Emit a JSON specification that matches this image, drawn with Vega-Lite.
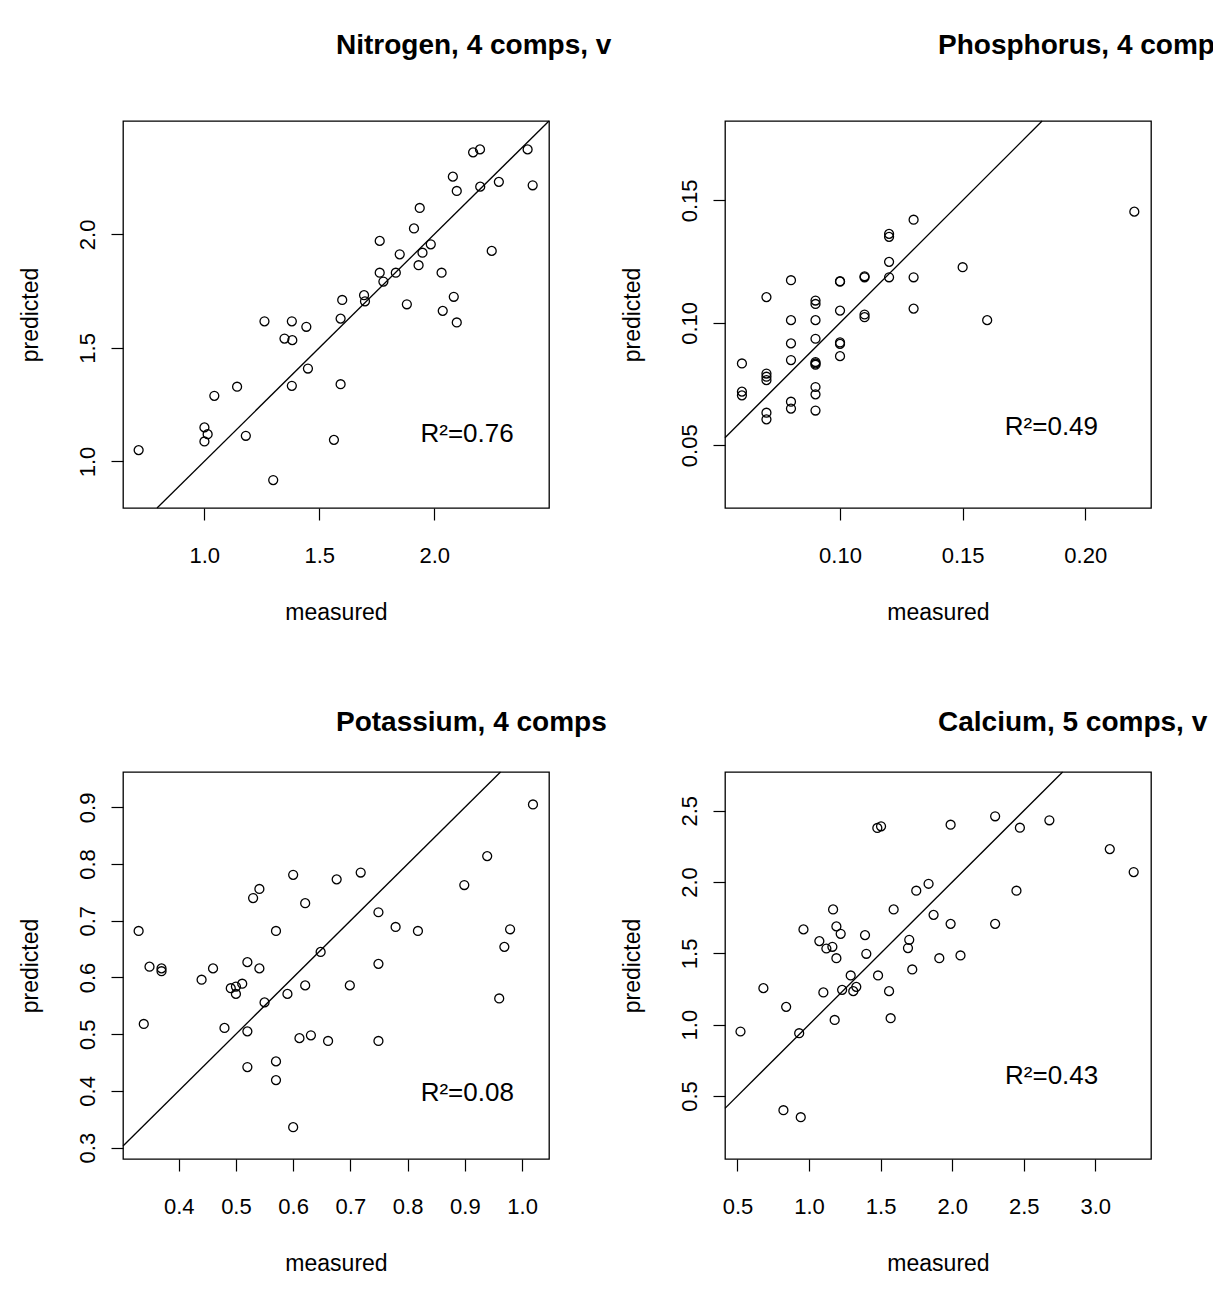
{
  "$schema": "https://vega.github.io/schema/vega-lite/v6.json",
  "background": "white",
  "padding": {"left": 18, "top": 31, "right": 0, "bottom": 0},
  "bounds": "flush",
  "columns": 2,
  "spacing": {"row": 264, "column": 176},
  "datasets": {
    "points": [
      {"panel": "N", "measured": 0.715, "predicted": 1.050},
      {"panel": "N", "measured": 1.001, "predicted": 1.150},
      {"panel": "N", "measured": 1.015, "predicted": 1.120},
      {"panel": "N", "measured": 1.001, "predicted": 1.088},
      {"panel": "N", "measured": 1.044, "predicted": 1.289},
      {"panel": "N", "measured": 1.143, "predicted": 1.329},
      {"panel": "N", "measured": 1.181, "predicted": 1.113},
      {"panel": "N", "measured": 1.300, "predicted": 0.918},
      {"panel": "N", "measured": 1.262, "predicted": 1.617},
      {"panel": "N", "measured": 1.381, "predicted": 1.617},
      {"panel": "N", "measured": 1.444, "predicted": 1.593},
      {"panel": "N", "measured": 1.349, "predicted": 1.541},
      {"panel": "N", "measured": 1.383, "predicted": 1.534},
      {"panel": "N", "measured": 1.451, "predicted": 1.409},
      {"panel": "N", "measured": 1.381, "predicted": 1.333},
      {"panel": "N", "measured": 1.564, "predicted": 1.095},
      {"panel": "N", "measured": 1.593, "predicted": 1.340},
      {"panel": "N", "measured": 1.600, "predicted": 1.711},
      {"panel": "N", "measured": 1.593, "predicted": 1.629},
      {"panel": "N", "measured": 1.695, "predicted": 1.732},
      {"panel": "N", "measured": 1.699, "predicted": 1.705},
      {"panel": "N", "measured": 1.763, "predicted": 1.971},
      {"panel": "N", "measured": 1.763, "predicted": 1.831},
      {"panel": "N", "measured": 1.779, "predicted": 1.792},
      {"panel": "N", "measured": 1.833, "predicted": 1.831},
      {"panel": "N", "measured": 1.850, "predicted": 1.912},
      {"panel": "N", "measured": 1.881, "predicted": 1.692},
      {"panel": "N", "measured": 1.912, "predicted": 2.026},
      {"panel": "N", "measured": 1.937, "predicted": 2.116},
      {"panel": "N", "measured": 1.932, "predicted": 1.864},
      {"panel": "N", "measured": 1.949, "predicted": 1.919},
      {"panel": "N", "measured": 1.985, "predicted": 1.956},
      {"panel": "N", "measured": 2.032, "predicted": 1.831},
      {"panel": "N", "measured": 2.037, "predicted": 1.663},
      {"panel": "N", "measured": 2.085, "predicted": 1.725},
      {"panel": "N", "measured": 2.098, "predicted": 1.612},
      {"panel": "N", "measured": 2.081, "predicted": 2.254},
      {"panel": "N", "measured": 2.098, "predicted": 2.191},
      {"panel": "N", "measured": 2.169, "predicted": 2.361},
      {"panel": "N", "measured": 2.199, "predicted": 2.374},
      {"panel": "N", "measured": 2.200, "predicted": 2.210},
      {"panel": "N", "measured": 2.250, "predicted": 1.927},
      {"panel": "N", "measured": 2.281, "predicted": 2.231},
      {"panel": "N", "measured": 2.406, "predicted": 2.374},
      {"panel": "N", "measured": 2.428, "predicted": 2.216},

      {"panel": "P", "measured": 0.06, "predicted": 0.0834},
      {"panel": "P", "measured": 0.06, "predicted": 0.0719},
      {"panel": "P", "measured": 0.06, "predicted": 0.0704},
      {"panel": "P", "measured": 0.07, "predicted": 0.1105},
      {"panel": "P", "measured": 0.07, "predicted": 0.0793},
      {"panel": "P", "measured": 0.07, "predicted": 0.0780},
      {"panel": "P", "measured": 0.07, "predicted": 0.0766},
      {"panel": "P", "measured": 0.07, "predicted": 0.0633},
      {"panel": "P", "measured": 0.07, "predicted": 0.0606},
      {"panel": "P", "measured": 0.08, "predicted": 0.1174},
      {"panel": "P", "measured": 0.08, "predicted": 0.1011},
      {"panel": "P", "measured": 0.08, "predicted": 0.0916},
      {"panel": "P", "measured": 0.08, "predicted": 0.0848},
      {"panel": "P", "measured": 0.08, "predicted": 0.0678},
      {"panel": "P", "measured": 0.08, "predicted": 0.0650},
      {"panel": "P", "measured": 0.09, "predicted": 0.1091},
      {"panel": "P", "measured": 0.09, "predicted": 0.1077},
      {"panel": "P", "measured": 0.09, "predicted": 0.1011},
      {"panel": "P", "measured": 0.09, "predicted": 0.0935},
      {"panel": "P", "measured": 0.09, "predicted": 0.0840},
      {"panel": "P", "measured": 0.09, "predicted": 0.0834},
      {"panel": "P", "measured": 0.09, "predicted": 0.0829},
      {"panel": "P", "measured": 0.09, "predicted": 0.0738},
      {"panel": "P", "measured": 0.09, "predicted": 0.0708},
      {"panel": "P", "measured": 0.09, "predicted": 0.0642},
      {"panel": "P", "measured": 0.10, "predicted": 0.1170},
      {"panel": "P", "measured": 0.10, "predicted": 0.1168},
      {"panel": "P", "measured": 0.10, "predicted": 0.1050},
      {"panel": "P", "measured": 0.10, "predicted": 0.0920},
      {"panel": "P", "measured": 0.10, "predicted": 0.0914},
      {"panel": "P", "measured": 0.10, "predicted": 0.0864},
      {"panel": "P", "measured": 0.11, "predicted": 0.1190},
      {"panel": "P", "measured": 0.11, "predicted": 0.1186},
      {"panel": "P", "measured": 0.11, "predicted": 0.1034},
      {"panel": "P", "measured": 0.11, "predicted": 0.1023},
      {"panel": "P", "measured": 0.12, "predicted": 0.1363},
      {"panel": "P", "measured": 0.12, "predicted": 0.1351},
      {"panel": "P", "measured": 0.12, "predicted": 0.1249},
      {"panel": "P", "measured": 0.12, "predicted": 0.1186},
      {"panel": "P", "measured": 0.13, "predicted": 0.1421},
      {"panel": "P", "measured": 0.13, "predicted": 0.1186},
      {"panel": "P", "measured": 0.13, "predicted": 0.1058},
      {"panel": "P", "measured": 0.15, "predicted": 0.1227},
      {"panel": "P", "measured": 0.16, "predicted": 0.1011},
      {"panel": "P", "measured": 0.22, "predicted": 0.1454},

      {"panel": "K", "measured": 0.330, "predicted": 0.682},
      {"panel": "K", "measured": 0.339, "predicted": 0.518},
      {"panel": "K", "measured": 0.349, "predicted": 0.619},
      {"panel": "K", "measured": 0.370, "predicted": 0.616},
      {"panel": "K", "measured": 0.370, "predicted": 0.611},
      {"panel": "K", "measured": 0.440, "predicted": 0.596},
      {"panel": "K", "measured": 0.460, "predicted": 0.616},
      {"panel": "K", "measured": 0.480, "predicted": 0.511},
      {"panel": "K", "measured": 0.491, "predicted": 0.581},
      {"panel": "K", "measured": 0.500, "predicted": 0.584},
      {"panel": "K", "measured": 0.500, "predicted": 0.571},
      {"panel": "K", "measured": 0.511, "predicted": 0.589},
      {"panel": "K", "measured": 0.520, "predicted": 0.627},
      {"panel": "K", "measured": 0.520, "predicted": 0.505},
      {"panel": "K", "measured": 0.520, "predicted": 0.442},
      {"panel": "K", "measured": 0.530, "predicted": 0.740},
      {"panel": "K", "measured": 0.541, "predicted": 0.756},
      {"panel": "K", "measured": 0.541, "predicted": 0.616},
      {"panel": "K", "measured": 0.550, "predicted": 0.556},
      {"panel": "K", "measured": 0.570, "predicted": 0.682},
      {"panel": "K", "measured": 0.570, "predicted": 0.452},
      {"panel": "K", "measured": 0.570, "predicted": 0.419},
      {"panel": "K", "measured": 0.590, "predicted": 0.571},
      {"panel": "K", "measured": 0.600, "predicted": 0.781},
      {"panel": "K", "measured": 0.600, "predicted": 0.336},
      {"panel": "K", "measured": 0.611, "predicted": 0.493},
      {"panel": "K", "measured": 0.621, "predicted": 0.731},
      {"panel": "K", "measured": 0.621, "predicted": 0.586},
      {"panel": "K", "measured": 0.631, "predicted": 0.498},
      {"panel": "K", "measured": 0.648, "predicted": 0.645},
      {"panel": "K", "measured": 0.661, "predicted": 0.488},
      {"panel": "K", "measured": 0.676, "predicted": 0.773},
      {"panel": "K", "measured": 0.699, "predicted": 0.586},
      {"panel": "K", "measured": 0.718, "predicted": 0.785},
      {"panel": "K", "measured": 0.749, "predicted": 0.715},
      {"panel": "K", "measured": 0.749, "predicted": 0.624},
      {"panel": "K", "measured": 0.749, "predicted": 0.488},
      {"panel": "K", "measured": 0.779, "predicted": 0.689},
      {"panel": "K", "measured": 0.818, "predicted": 0.682},
      {"panel": "K", "measured": 0.899, "predicted": 0.763},
      {"panel": "K", "measured": 0.939, "predicted": 0.814},
      {"panel": "K", "measured": 0.960, "predicted": 0.563},
      {"panel": "K", "measured": 0.969, "predicted": 0.654},
      {"panel": "K", "measured": 0.979, "predicted": 0.685},
      {"panel": "K", "measured": 1.019, "predicted": 0.905},

      {"panel": "Ca", "measured": 0.521, "predicted": 0.952},
      {"panel": "Ca", "measured": 0.681, "predicted": 1.256},
      {"panel": "Ca", "measured": 0.821, "predicted": 0.400},
      {"panel": "Ca", "measured": 0.840, "predicted": 1.125},
      {"panel": "Ca", "measured": 0.931, "predicted": 0.940},
      {"panel": "Ca", "measured": 0.942, "predicted": 0.351},
      {"panel": "Ca", "measured": 0.961, "predicted": 1.668},
      {"panel": "Ca", "measured": 1.072, "predicted": 1.586},
      {"panel": "Ca", "measured": 1.100, "predicted": 1.226},
      {"panel": "Ca", "measured": 1.121, "predicted": 1.534},
      {"panel": "Ca", "measured": 1.163, "predicted": 1.546},
      {"panel": "Ca", "measured": 1.168, "predicted": 1.808},
      {"panel": "Ca", "measured": 1.179, "predicted": 1.033},
      {"panel": "Ca", "measured": 1.191, "predicted": 1.689},
      {"panel": "Ca", "measured": 1.191, "predicted": 1.466},
      {"panel": "Ca", "measured": 1.221, "predicted": 1.637},
      {"panel": "Ca", "measured": 1.231, "predicted": 1.244},
      {"panel": "Ca", "measured": 1.291, "predicted": 1.345},
      {"panel": "Ca", "measured": 1.309, "predicted": 1.235},
      {"panel": "Ca", "measured": 1.330, "predicted": 1.265},
      {"panel": "Ca", "measured": 1.391, "predicted": 1.628},
      {"panel": "Ca", "measured": 1.400, "predicted": 1.497},
      {"panel": "Ca", "measured": 1.482, "predicted": 1.345},
      {"panel": "Ca", "measured": 1.477, "predicted": 2.379},
      {"panel": "Ca", "measured": 1.503, "predicted": 2.391},
      {"panel": "Ca", "measured": 1.559, "predicted": 1.235},
      {"panel": "Ca", "measured": 1.570, "predicted": 1.045},
      {"panel": "Ca", "measured": 1.591, "predicted": 1.808},
      {"panel": "Ca", "measured": 1.691, "predicted": 1.537},
      {"panel": "Ca", "measured": 1.700, "predicted": 1.595},
      {"panel": "Ca", "measured": 1.721, "predicted": 1.387},
      {"panel": "Ca", "measured": 1.749, "predicted": 1.939},
      {"panel": "Ca", "measured": 1.835, "predicted": 1.988},
      {"panel": "Ca", "measured": 1.870, "predicted": 1.770},
      {"panel": "Ca", "measured": 1.989, "predicted": 2.402},
      {"panel": "Ca", "measured": 1.989, "predicted": 1.707},
      {"panel": "Ca", "measured": 1.910, "predicted": 1.466},
      {"panel": "Ca", "measured": 2.058, "predicted": 1.485},
      {"panel": "Ca", "measured": 2.300, "predicted": 2.461},
      {"panel": "Ca", "measured": 2.300, "predicted": 1.707},
      {"panel": "Ca", "measured": 2.449, "predicted": 1.939},
      {"panel": "Ca", "measured": 2.473, "predicted": 2.381},
      {"panel": "Ca", "measured": 2.679, "predicted": 2.433},
      {"panel": "Ca", "measured": 3.101, "predicted": 2.231},
      {"panel": "Ca", "measured": 3.268, "predicted": 2.070}
    ],
    "diag": [
      {"panel": "N", "measured": 0.795, "predicted": 0.795},
      {"panel": "N", "measured": 2.499, "predicted": 2.499},
      {"panel": "P", "measured": 0.0531, "predicted": 0.0531},
      {"panel": "P", "measured": 0.1824, "predicted": 0.1824},
      {"panel": "K", "measured": 0.3027, "predicted": 0.3027},
      {"panel": "K", "measured": 0.9623, "predicted": 0.9623},
      {"panel": "Ca", "measured": 0.4128, "predicted": 0.4128},
      {"panel": "Ca", "measured": 2.7716, "predicted": 2.7716}
    ],
    "labels": [
      {"panel": "N", "measured": 2.143, "predicted": 1.084, "label": "R²=0.76"},
      {"panel": "P", "measured": 0.1862, "predicted": 0.0542, "label": "R²=0.49"},
      {"panel": "K", "measured": 0.9042, "predicted": 0.3822, "label": "R²=0.08"},
      {"panel": "Ca", "measured": 2.6947, "predicted": 0.584, "label": "R²=0.43"}
    ]
  },
  "concat": [
    {
      "width": 426, "height": 387,
      "title": {"text": "Nitrogen, 4 comps, v", "offset": 58},
      "encoding": {
        "x": {"field": "measured", "type": "quantitative", "scale": {"domain": [0.647, 2.499], "zero": false, "nice": false}, "axis": {"values": [1.0, 1.5, 2.0], "format": ".1f", "title": "measured"}},
        "y": {"field": "predicted", "type": "quantitative", "scale": {"domain": [0.795, 2.499], "zero": false, "nice": false}, "axis": {"values": [1.0, 1.5, 2.0], "format": ".1f", "title": "predicted"}}
      },
      "layer": [
        {"data": {"name": "points"}, "transform": [{"filter": "datum.panel === 'N'"}], "mark": {"type": "point"}},
        {"data": {"name": "diag"}, "transform": [{"filter": "datum.panel === 'N'"}], "mark": {"type": "line"}},
        {"data": {"name": "labels"}, "transform": [{"filter": "datum.panel === 'N'"}], "mark": {"type": "text"}, "encoding": {"text": {"field": "label"}}}
      ]
    },
    {
      "width": 426, "height": 387,
      "title": {"text": "Phosphorus, 4 comp", "offset": 58},
      "encoding": {
        "x": {"field": "measured", "type": "quantitative", "scale": {"domain": [0.0531, 0.2268], "zero": false, "nice": false}, "axis": {"values": [0.10, 0.15, 0.20], "format": ".2f", "title": "measured"}},
        "y": {"field": "predicted", "type": "quantitative", "scale": {"domain": [0.0244, 0.1824], "zero": false, "nice": false}, "axis": {"values": [0.05, 0.10, 0.15], "format": ".2f", "title": "predicted"}}
      },
      "layer": [
        {"data": {"name": "points"}, "transform": [{"filter": "datum.panel === 'P'"}], "mark": {"type": "point"}},
        {"data": {"name": "diag"}, "transform": [{"filter": "datum.panel === 'P'"}], "mark": {"type": "line"}},
        {"data": {"name": "labels"}, "transform": [{"filter": "datum.panel === 'P'"}], "mark": {"type": "text"}, "encoding": {"text": {"field": "label"}}}
      ]
    },
    {
      "width": 426, "height": 387,
      "title": {"text": "Potassium, 4 comps", "offset": 32},
      "encoding": {
        "x": {"field": "measured", "type": "quantitative", "scale": {"domain": [0.3027, 1.047], "zero": false, "nice": false}, "axis": {"values": [0.4, 0.5, 0.6, 0.7, 0.8, 0.9, 1.0], "format": ".1f", "title": "measured"}},
        "y": {"field": "predicted", "type": "quantitative", "scale": {"domain": [0.2799, 0.9623], "zero": false, "nice": false}, "axis": {"values": [0.3, 0.4, 0.5, 0.6, 0.7, 0.8, 0.9], "format": ".1f", "title": "predicted"}}
      },
      "layer": [
        {"data": {"name": "points"}, "transform": [{"filter": "datum.panel === 'K'"}], "mark": {"type": "point"}},
        {"data": {"name": "diag"}, "transform": [{"filter": "datum.panel === 'K'"}], "mark": {"type": "line"}},
        {"data": {"name": "labels"}, "transform": [{"filter": "datum.panel === 'K'"}], "mark": {"type": "text"}, "encoding": {"text": {"field": "label"}}}
      ]
    },
    {
      "width": 426, "height": 387,
      "title": {"text": "Calcium, 5 comps, v", "offset": 32},
      "encoding": {
        "x": {"field": "measured", "type": "quantitative", "scale": {"domain": [0.4128, 3.389], "zero": false, "nice": false}, "axis": {"values": [0.5, 1.0, 1.5, 2.0, 2.5, 3.0], "format": ".1f", "title": "measured"}},
        "y": {"field": "predicted", "type": "quantitative", "scale": {"domain": [0.058, 2.7716], "zero": false, "nice": false}, "axis": {"values": [0.5, 1.0, 1.5, 2.0, 2.5], "format": ".1f", "title": "predicted"}}
      },
      "layer": [
        {"data": {"name": "points"}, "transform": [{"filter": "datum.panel === 'Ca'"}], "mark": {"type": "point"}},
        {"data": {"name": "diag"}, "transform": [{"filter": "datum.panel === 'Ca'"}], "mark": {"type": "line"}},
        {"data": {"name": "labels"}, "transform": [{"filter": "datum.panel === 'Ca'"}], "mark": {"type": "text"}, "encoding": {"text": {"field": "label"}}}
      ]
    }
  ],
  "config": {
    "font": "Liberation Sans",
    "view": {"stroke": "black", "strokeWidth": 1.3, "fill": "white"},
    "point": {"shape": "circle", "filled": false, "size": 80, "strokeWidth": 1.3, "color": "black", "opacity": 1},
    "line": {"color": "black", "strokeWidth": 1.3},
    "text": {"font": "Liberation Sans", "fontSize": 26, "color": "black", "align": "center", "baseline": "alphabetic"},
    "title": {"anchor": "start", "frame": "group", "dx": 213, "baseline": "alphabetic", "font": "Liberation Sans", "fontSize": 28, "fontWeight": "bold", "color": "black"},
    "axis": {
      "grid": false, "domain": false,
      "tickColor": "black", "tickSize": 12, "tickWidth": 1.2,
      "labelColor": "black", "labelFont": "Liberation Sans", "labelFontSize": 22,
      "labelFlush": false, "labelOverlap": false,
      "titleColor": "black", "titleFont": "Liberation Sans", "titleFontSize": 23, "titleFontWeight": "normal"
    },
    "axisX": {"labelBaseline": "middle", "labelPadding": 35, "titlePadding": 35},
    "axisY": {"labelAngle": -90, "labelAlign": "center", "labelBaseline": "middle", "labelPadding": 24, "titlePadding": 34}
  }
}
